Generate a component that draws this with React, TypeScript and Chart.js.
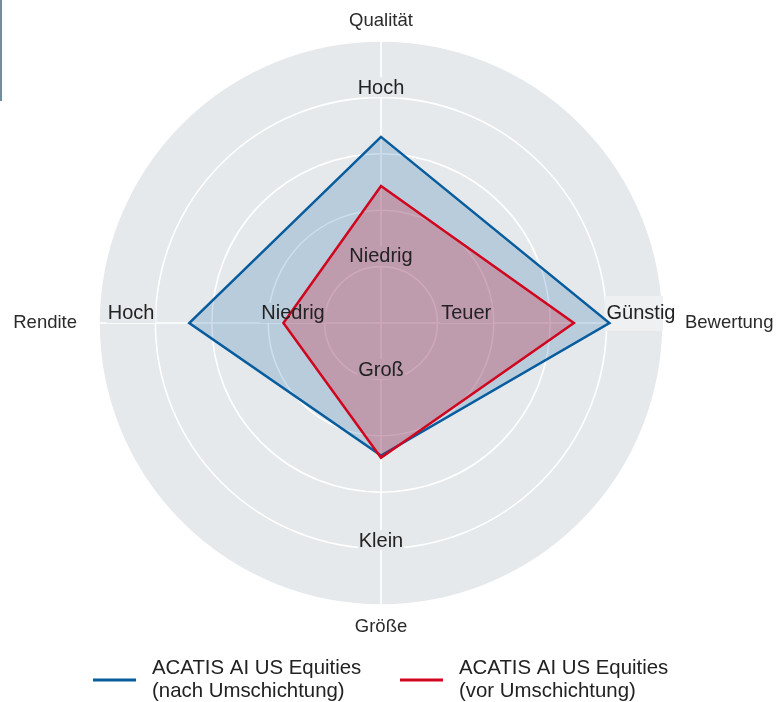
import React, { useEffect, useRef } from "react";
import { Chart, registerables } from "chart.js";

Chart.register(...registerables);

// ---- data ----
const axisLabels = ["Qualität", "Bewertung", "Größe", "Rendite"];
const afterValues = [3.3, 4.05, 2.35, 3.4];
const beforeValues = [2.43, 3.42, 2.39, 1.73];
const seriesNames = [
  ["ACATIS AI US Equities", "(nach Umschichtung)"],
  ["ACATIS AI US Equities", "(vor Umschichtung)"],
];
const scaleWordTexts = ["Hoch", "Niedrig", "Günstig", "Teuer", "Klein", "Groß", "Hoch", "Niedrig"];
const scaleWordAxes = [0, 0, 1, 1, 2, 2, 3, 3];
const scaleWordValues = [4.18, 1.19, 4.61, 1.51, 3.85, 0.82, 4.43, 1.56];
const scaleMax = 5;

// ---- styles ----
const FONT = "'Liberation Sans', Arial, Helvetica, sans-serif";
const BLUE = "#075c9e";
const RED = "#d0061f";
const DISC = "#e6e9ec";
const TEXT = "#222222";

const labelsPlugin = {
  id: "customLabels",
  beforeDatasetsDraw(chart: any) {
    const ctx = chart.ctx;
    const scale = chart.scales.r;
    ctx.save();
    ctx.font = `20px ${FONT}`;
    scaleWordTexts.forEach((t, i) => {
      const axis = scaleWordAxes[i];
      const p = scale.getPointPositionForValue(axis, scaleWordValues[i]);
      const w = ctx.measureText(t).width;
      const horiz = axis === 1 || axis === 3;
      const cy = horiz ? p.y - 10 : p.y;
      if (t === "Günstig") {
        ctx.fillStyle = "#eef0f2";
        const right = scale.getPointPositionForValue(1, scaleMax).x;
        ctx.fillRect(p.x - w / 2 - 2, p.y - 27, right - (p.x - w / 2 - 2), 35);
      } else {
        ctx.fillStyle = DISC;
        ctx.fillRect(p.x - w / 2 - 1, cy - 10, w + 2, 20);
      }
    });
    ctx.restore();
  },
  afterDatasetsDraw(chart: any) {
    const ctx = chart.ctx;
    const scale = chart.scales.r;
    ctx.save();
    ctx.fillStyle = TEXT;
    ctx.textAlign = "center";
    ctx.textBaseline = "middle";
    ctx.font = `20px ${FONT}`;
    scaleWordTexts.forEach((t, i) => {
      const axis = scaleWordAxes[i];
      const p = scale.getPointPositionForValue(axis, scaleWordValues[i]);
      const horiz = axis === 1 || axis === 3;
      ctx.fillText(t, p.x, horiz ? p.y - 10 : p.y + 1);
    });
    // axis (point) labels
    ctx.font = `18.5px ${FONT}`;
    ctx.fillStyle = "#2a2a2a";
    axisLabels.forEach((t, i) => {
      const p = scale.getPointPositionForValue(i, 5.39);
      if (i === 1) ctx.textAlign = "left";
      else if (i === 3) ctx.textAlign = "right";
      else ctx.textAlign = "center";
      ctx.fillText(t, p.x, i === 0 ? p.y + 2 : p.y);
    });
    ctx.restore();
  },
  afterDraw(chart: any) {
    const ctx = chart.ctx;
    ctx.save();
    const colors = [BLUE, RED];
    const lineX = [93, 400];
    const textX = [152, 459];
    ctx.font = `20.4px ${FONT}`;
    ctx.textBaseline = "middle";
    ctx.textAlign = "left";
    seriesNames.forEach((lines, i) => {
      ctx.strokeStyle = colors[i];
      ctx.lineWidth = 3;
      ctx.beginPath();
      ctx.moveTo(lineX[i], 680);
      ctx.lineTo(lineX[i] + 43, 680);
      ctx.stroke();
      ctx.fillStyle = TEXT;
      lines.forEach((l, j) => ctx.fillText(l, textX[i], 668 + j * 23));
    });
    ctx.restore();
  },
};

export default function App() {
  const ref = useRef<HTMLCanvasElement | null>(null);
  useEffect(() => {
    if (!ref.current) return;
    const chart = new Chart(ref.current, {
      type: "radar",
      data: {
        labels: axisLabels,
        datasets: [
          {
            label: seriesNames[0].join(" "),
            data: afterValues,
            borderColor: BLUE,
            backgroundColor: "rgba(7,92,158,0.2)",
            borderWidth: 2.5,
            fill: true,
            order: 1,
          },
          {
            label: seriesNames[1].join(" "),
            data: beforeValues,
            borderColor: RED,
            backgroundColor: "rgba(208,6,31,0.25)",
            borderWidth: 2.5,
            fill: true,
            order: 0,
          },
        ],
      },
      options: {
        responsive: false,
        animation: false,
        layout: { padding: { left: 99, top: 41, right: 113, bottom: 97 } },
        plugins: { legend: { display: false }, tooltip: { enabled: false } },
        elements: { point: { radius: 0, hoverRadius: 0 }, line: { tension: 0, borderJoinStyle: "miter" } },
        scales: {
          r: {
            min: 0,
            max: scaleMax,
            backgroundColor: DISC,
            ticks: { display: false, stepSize: 1 },
            grid: { color: "#ffffff", lineWidth: 1.6, circular: true },
            angleLines: { color: "#ffffff", lineWidth: 1.6 },
            pointLabels: { display: false },
          },
        },
      } as any,
      plugins: [labelsPlugin],
    });
    return () => chart.destroy();
  }, []);
  return (
    <div style={{ position: "absolute", left: 0, top: 0, width: 776, height: 702, background: "#fff" }}>
      <div style={{ position: "absolute", left: 0, top: 0, width: 2, height: 101, background: "#6f8fa0" }} />
      <canvas ref={ref} width={776} height={702} style={{ display: "block", width: 776, height: 702 }} />
    </div>
  );
}
